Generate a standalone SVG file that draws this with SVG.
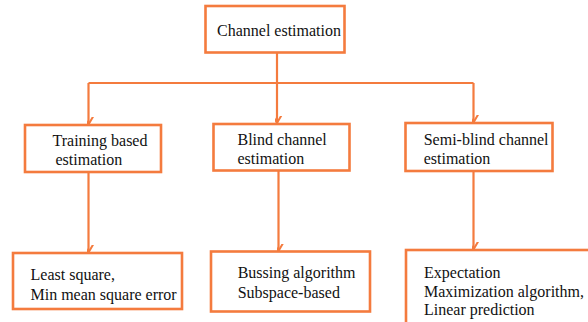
<svg xmlns="http://www.w3.org/2000/svg" width="588" height="322" viewBox="0 0 588 322">
<defs>
<style>
.box{fill:#fff;stroke:#F47B3E;stroke-width:2.6}
.ln{fill:none;stroke:#F47B3E;stroke-width:2.2}
.t{font-family:'Liberation Serif',Tinos,'Times New Roman',Times,'DejaVu Serif',serif;font-size:16px;fill:#111}
</style>
<marker id="ah" markerUnits="userSpaceOnUse" markerWidth="16" markerHeight="16" viewBox="-8 -14 16 16" refX="0" refY="0" orient="auto-start-reverse">
<polyline points="-5.5,-10 0,-0.5 5.5,-10" fill="none" stroke="#F47B3E" stroke-width="2" transform="rotate(-90)"/>
</marker>
</defs>
<rect width="588" height="322" fill="#fff"/>
<g id="connectors">
<path class="ln" d="M277,53 V123.5" marker-end="url(#ah)"/>
<path class="ln" d="M88.5,83 H473.5"/>
<path class="ln" d="M88.5,83 V125" marker-end="url(#ah)"/>
<path class="ln" d="M473.5,83 V123" marker-end="url(#ah)"/>
<path class="ln" d="M88.5,172 V253" marker-end="url(#ah)"/>
<path class="ln" d="M278.5,170 V251.5" marker-end="url(#ah)"/>
<path class="ln" d="M473.5,171 V250" marker-end="url(#ah)"/>
</g>
<g id="root">
<rect class="box" x="205.5" y="6" width="139" height="46.5"/>
<text class="t" x="217" y="36">Channel estimation</text>
</g>
<g id="training">
<rect class="box" x="25" y="125" width="136" height="47"/>
<text class="t" x="52.5" y="145.5">Training based</text>
<text class="t" x="55.5" y="164.5">estimation</text>
</g>
<g id="blind">
<rect class="box" x="213.5" y="124" width="136" height="46.5"/>
<text class="t" x="237.5" y="145">Blind channel</text>
<text class="t" x="237.5" y="164.3">estimation</text>
</g>
<g id="semiblind">
<rect class="box" x="405.5" y="123" width="147" height="48"/>
<text class="t" x="423.7" y="145">Semi-blind channel</text>
<text class="t" x="423.7" y="164.3">estimation</text>
</g>
<g id="training-methods">
<rect class="box" x="13" y="253" width="169" height="56"/>
<text class="t" x="30.5" y="279.5">Least square,</text>
<text class="t" x="30.5" y="299.5">Min mean square error</text>
</g>
<g id="blind-methods">
<rect class="box" x="211" y="251.5" width="159" height="60"/>
<text class="t" x="237.7" y="278.3">Bussing algorithm</text>
<text class="t" x="237.7" y="297.5">Subspace-based</text>
</g>
<g id="semiblind-methods">
<rect class="box" x="406" y="250" width="190" height="74"/>
<text class="t" x="424" y="278.3">Expectation</text>
<text class="t" x="424" y="296.7">Maximization algorithm,</text>
<text class="t" x="424" y="315">Linear prediction</text>
</g>
</svg>
